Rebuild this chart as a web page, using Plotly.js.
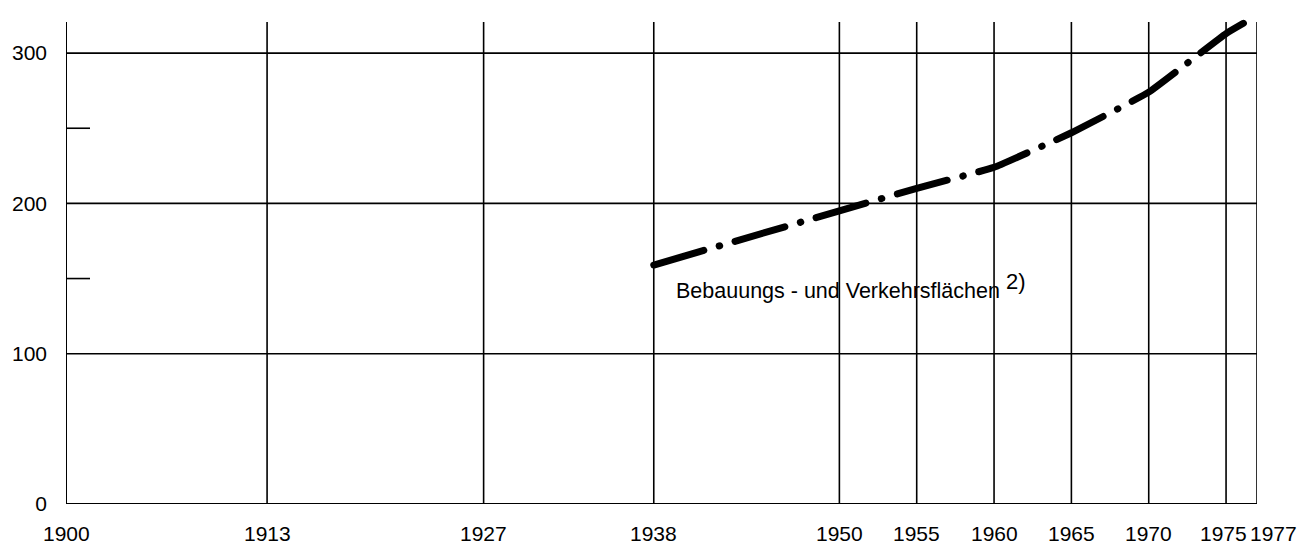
<!DOCTYPE html>
<html>
<head>
<meta charset="utf-8">
<script src="https://cdn.plot.ly/plotly-3.0.1.min.js"></script>
<style>
  html, body { margin: 0; padding: 0; background: #ffffff; }
  #chart { width: 1314px; height: 544px; }
  #chart .scatterlayer path.js-line { stroke-linecap: round; }
</style>
</head>
<body>
<div id="chart"></div>
<script>
// Data
const years = [1938, 1950, 1955, 1960, 1965, 1970, 1975, 1977];
const values = [159, 195, 210, 224, 247, 274, 313, 325];
const seriesLabel = "Bebauungs - und Verkehrsflächen <sup><span style=\"font-size:22px\">2)</span></sup>";

// Axis ticks
const xTicks = [1900, 1913, 1927, 1938, 1950, 1955, 1960, 1965, 1970, 1975, 1977];
const xTickLabels = ["1900", "1913", "1927", "1938", "1950", "1955", "1960", "1965", "1970", "1975", "1977"];
const yTicks = [0, 100, 200, 300];
const yMinorTicks = [150, 250];

const FONT = "Liberation Sans, Arial, Helvetica, sans-serif";
const gridTop = 320.7;
const labelShift = {1975: -3, 1977: 16};

const shapes = [];
xTicks.forEach(function (yr) {
  shapes.push({type: "line", xref: "x", yref: "y", x0: yr, x1: yr, y0: 0, y1: gridTop,
    line: {color: "#000", width: yr === 1900 ? 2 : 1.6}, layer: "below"});
});
yTicks.forEach(function (v) {
  shapes.push({type: "line", xref: "x", yref: "y", x0: xTicks[0], x1: xTicks[xTicks.length - 1], y0: v, y1: v,
    line: {color: "#000", width: v === 0 ? 2 : 1.6}, layer: "below"});
});
yMinorTicks.forEach(function (v) {
  shapes.push({type: "line", xref: "x", yref: "y", xsizemode: "pixel", xanchor: xTicks[0], x0: 0, x1: 24, y0: v, y1: v,
    line: {color: "#000", width: 1.6}, layer: "below"});
});

const annotations = xTicks.map(function (yr, i) {
  return {x: yr, xref: "x", y: 0, yref: "paper", yanchor: "top", xanchor: "center",
    yshift: -16, xshift: labelShift[yr] || 0, showarrow: false,
    text: xTickLabels[i], font: {family: FONT, size: 21, color: "#000"}};
});
annotations.push({x: 1939.3, xref: "x", y: 145, yref: "y", xanchor: "left", yanchor: "middle",
  showarrow: false, text: seriesLabel, font: {family: FONT, size: 21.5, color: "#000"}});

const trace = {
  x: years, y: values, type: "scatter", mode: "lines",
  line: {color: "#000", width: 7, dash: "52px,16px,0.5px,16px", shape: "spline", smoothing: 0.3},
  hoverinfo: "skip", showlegend: false
};

const layout = {
  width: 1314, height: 544,
  margin: {l: 66, r: 57, t: 8, b: 40, pad: 0},
  paper_bgcolor: "#fff", plot_bgcolor: "#fff",
  showlegend: false,
  xaxis: {range: [1900, 1977], showgrid: false, zeroline: false, showline: false,
    showticklabels: false, ticks: "", fixedrange: true},
  yaxis: {range: [0, 330], showgrid: false, zeroline: false, showline: false,
    tickmode: "array", tickvals: yTicks, ticktext: yTicks.map(String), ticks: "",
    ticklabelstandoff: 18, tickfont: {family: FONT, size: 21, color: "#000"}, fixedrange: true},
  shapes: shapes,
  annotations: annotations
};

Plotly.newPlot("chart", [trace], layout, {staticPlot: true, displayModeBar: false});
</script>
</body>
</html>
